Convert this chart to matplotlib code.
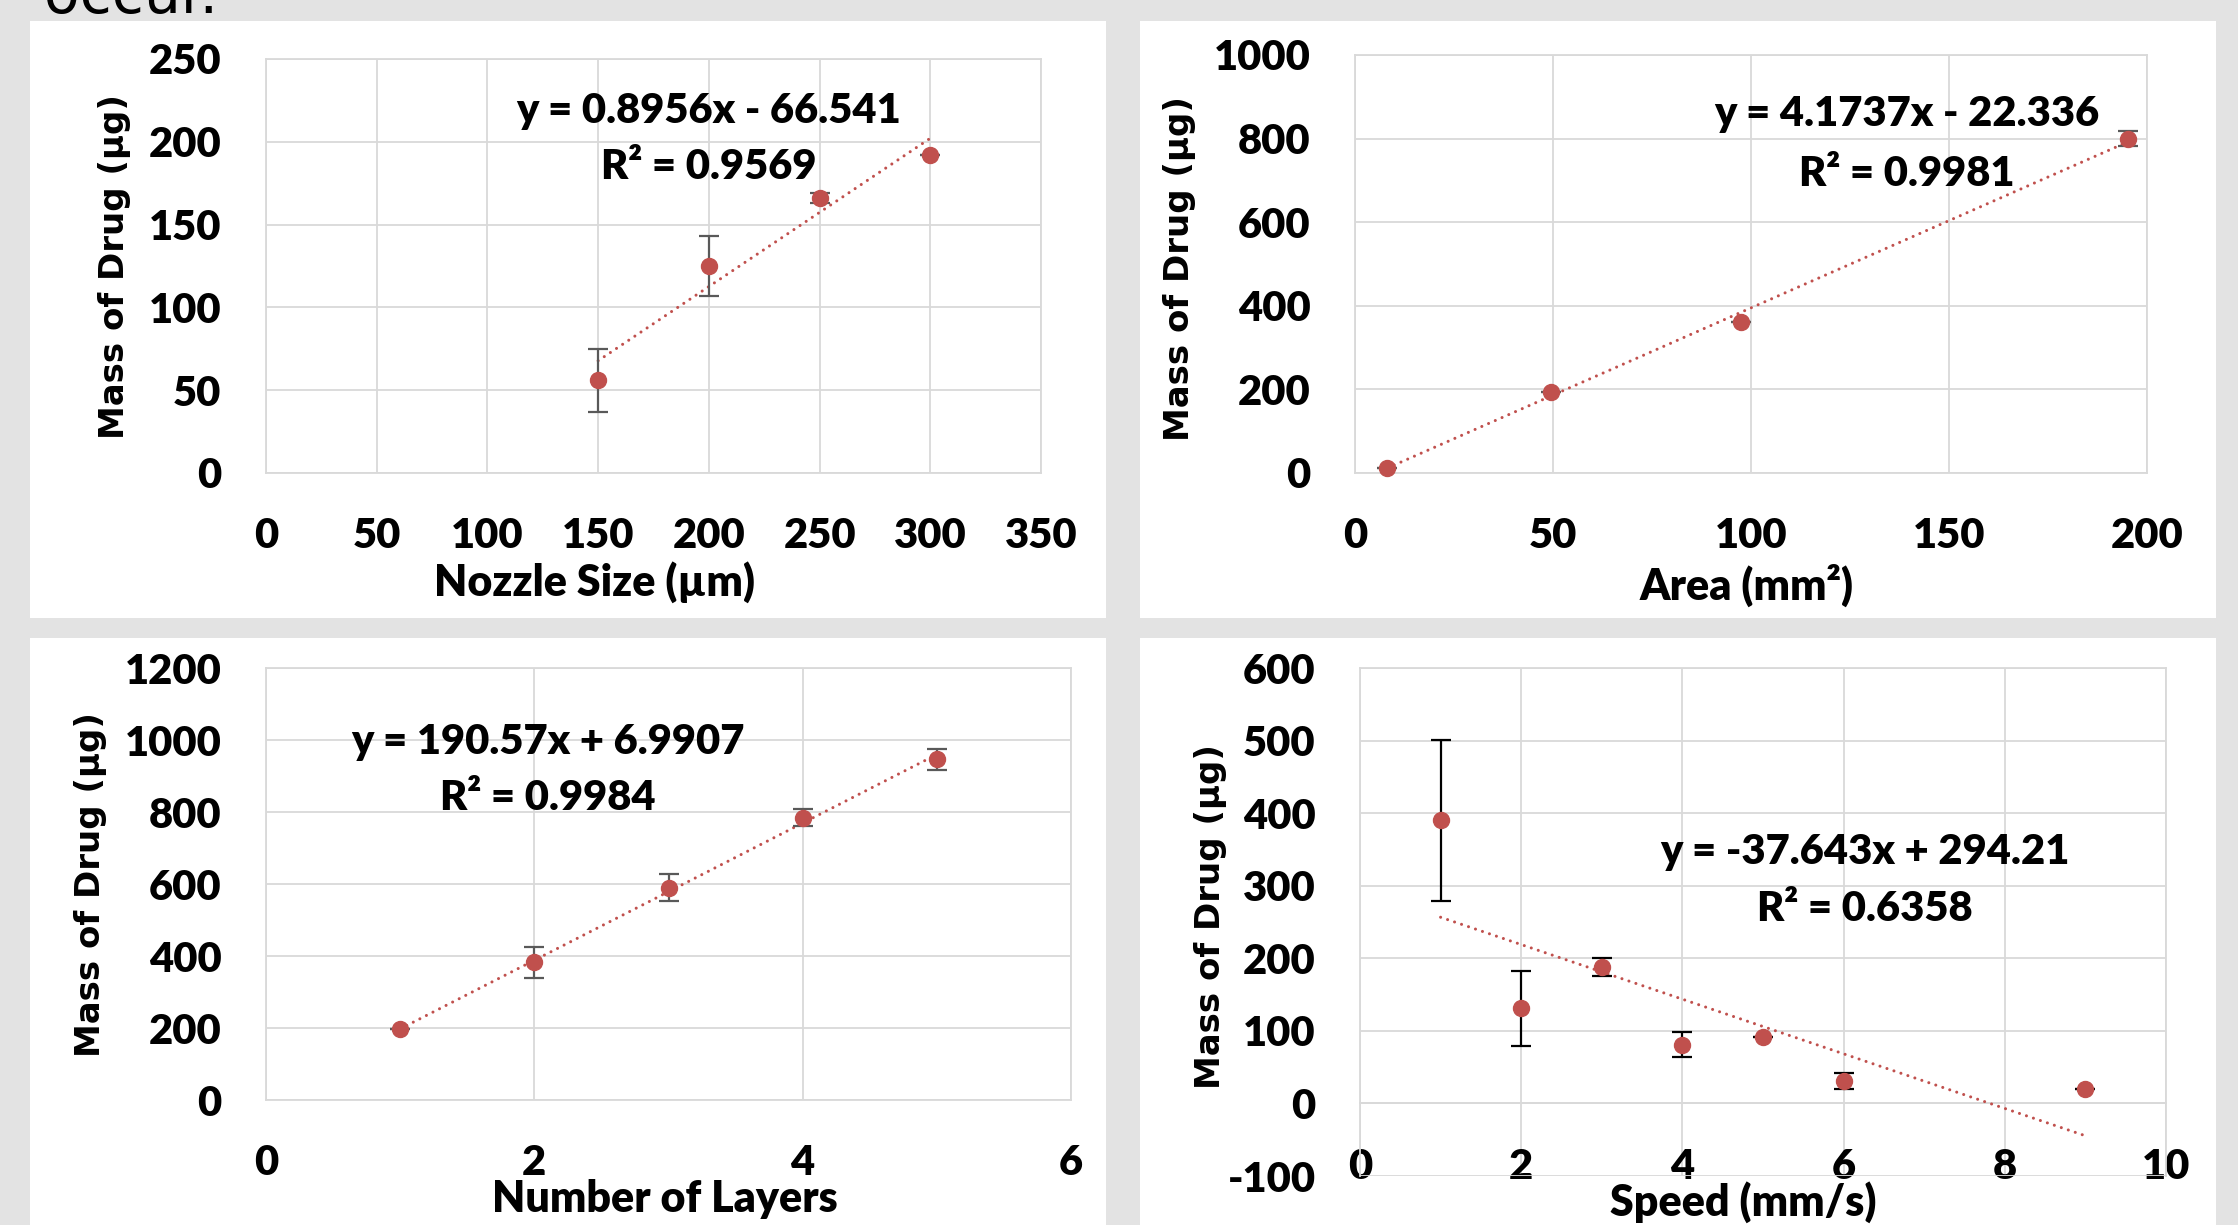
import numpy as np
import matplotlib
matplotlib.use("Agg")
import matplotlib.pyplot as plt
from matplotlib.patches import Rectangle

plt.rcParams["axes.unicode_minus"] = False

# ---------------- data ----------------
nozzle_x = [150, 200, 250, 300]
nozzle_y = [56, 125, 166, 192]
nozzle_err = [19, 18, 3, 0]
nozzle_fit = (0.8956, -66.541)
nozzle_eq = ["y = 0.8956x - 66.541", "R² = 0.9569"]

area_x = [8.2, 49.6, 97.6, 195.3]
area_y = [13, 193, 361, 800]
area_err = [0, 0, 0, 18]
area_fit = (4.1737, -22.336)
area_eq = ["y = 4.1737x - 22.336", "R² = 0.9981"]

layers_x = [1, 2, 3, 4, 5]
layers_y = [196, 382, 590, 784, 946]
layers_err = [0, 44, 37, 23, 29]
layers_fit = (190.57, 6.9907)
layers_eq = ["y = 190.57x + 6.9907", "R² = 0.9984"]

speed_x = [1, 2, 3, 4, 5, 6, 9]
speed_y = [390, 131, 188, 81, 92, 31, 20]
speed_err = [111, 52, 13, 17, 0, 11, 0]
speed_fit = (-37.643, 294.21)
speed_eq = ["y = -37.643x + 294.21", "R² = 0.6358"]

ylabel = "Mass of Drug (µg)"
xlabels = ["Nozzle Size (µm)", "Area (mm²)", "Number of Layers", "Speed (mm/s)"]

# ---------------- figure ----------------
W, H = 2238, 1225
fig = plt.figure(figsize=(W / 100, H / 100), dpi=100)
fig.patch.set_facecolor("#e3e3e3")

TICKFONT = ["Lato", "DejaVu Sans"]
TW = "heavy"
YLFONT = ["DejaVu Sans"]
RED = "#c0504d"
GRID = "#d9d9d9"


def panel(l, t, r, b):
    fig.patches.append(Rectangle((l / W, 1 - b / H), (r - l) / W, (b - t) / H,
                                 transform=fig.transFigure, facecolor="white",
                                 edgecolor="none", zorder=-5))


def px_axes(l, t, r, b):
    ax = fig.add_axes([l / W, 1 - b / H, (r - l) / W, (b - t) / H])
    ax.set_zorder(2)
    return ax


panel(30, 21, 1106, 618)
panel(1140, 21, 2216, 618)
panel(30, 638, 1106, 1240)
panel(1140, 638, 2216, 1240)

# partially visible slide text at top
fig.text(-0.004, 1 - 13 / H, "• occur.", fontsize=42, family=["DejaVu Sans"],
         va="baseline", ha="left", color="black")


def draw(ax, x, y, err, fit, eq, xlim, ylim, xticks, yticks, xlabel,
         xlab_pos, ylab_pos, eq_x, eq_y, errcolor, zero_axis=False):
    ax.set_facecolor("white")
    ax.set_xlim(*xlim)
    ax.set_ylim(*ylim)
    ax.set_xticks(xticks)
    ax.set_yticks(yticks)
    ax.grid(True, color=GRID, lw=1.3, zorder=0)
    ax.set_axisbelow(True)
    for s in ax.spines.values():
        s.set_color(GRID)
        s.set_linewidth(1.3)
    if zero_axis:
        ax.spines["bottom"].set_position(("data", 0))
    ax.tick_params(length=0, labelsize=30, pad=0)
    ax.tick_params(axis="x", pad=32)
    ax.tick_params(axis="y", pad=32)
    for lab in ax.get_xticklabels() + ax.get_yticklabels():
        lab.set_family(TICKFONT)
        lab.set_fontweight(TW)
    xs = np.array([min(x), max(x)])
    ax.plot(xs, fit[0] * xs + fit[1], color=RED, lw=2.2,
            linestyle=(0, (0.01, 2.4)), dash_capstyle="round", zorder=3)
    ax.errorbar(x, y, yerr=err, fmt="none", ecolor=errcolor, elinewidth=1.6,
                capsize=7, capthick=1.6, zorder=4)
    ax.plot(x, y, "o", color=RED, ms=11.5, mec=RED, zorder=5, clip_on=False)
    ax.set_xlabel(xlabel, family=TICKFONT, fontweight=TW, fontsize=31)
    ax.xaxis.set_label_coords(*xlab_pos)
    ax.xaxis.label.set_va("center")
    ax.set_ylabel(ylabel, family=YLFONT, fontweight="bold", fontsize=24.5)
    ax.yaxis.set_label_coords(*ylab_pos)
    ax.yaxis.label.set_va("center")
    ax.text(eq_x, eq_y[0], eq[0], transform=ax.transAxes, ha="center",
            va="center", fontsize=30, family=TICKFONT, fontweight=TW)
    ax.text(eq_x, eq_y[1], eq[1], transform=ax.transAxes, ha="center",
            va="center", fontsize=30, family=TICKFONT, fontweight=TW)


ax1 = px_axes(266, 59, 1041, 473)
draw(ax1, nozzle_x, nozzle_y, nozzle_err, nozzle_fit, nozzle_eq,
     (0, 350), (0, 250), range(0, 351, 50), range(0, 251, 50), xlabels[0],
     (0.424, -0.264), (-0.196, 0.498), 0.571, (0.875, 0.738), "#595959")

ax2 = px_axes(1355, 55, 2147, 473)
draw(ax2, area_x, area_y, area_err, area_fit, area_eq,
     (0, 200), (0, 1000), range(0, 201, 50), range(0, 1001, 200), xlabels[1],
     (0.495, -0.268), (-0.222, 0.49), 0.697, (0.859, 0.715), "#595959")

ax3 = px_axes(266, 668, 1071, 1100)
draw(ax3, layers_x, layers_y, layers_err, layers_fit, layers_eq,
     (0, 6), (0, 1200), range(0, 7, 2), range(0, 1201, 200), xlabels[2],
     (0.495, -0.229), (-0.218, 0.498), 0.3505, (0.829, 0.699), "#595959")

ax4 = px_axes(1360, 668, 2166, 1176)
draw(ax4, speed_x, speed_y, speed_err, speed_fit, speed_eq,
     (0, 10), (-100, 600), range(0, 11, 2), range(-100, 601, 100), xlabels[3],
     (0.476, -0.052), (-0.186, 0.51), 0.626, (0.6375, 0.525), "black",
     zero_axis=True)

fig.savefig("out.png", dpi=100, facecolor=fig.get_facecolor())
